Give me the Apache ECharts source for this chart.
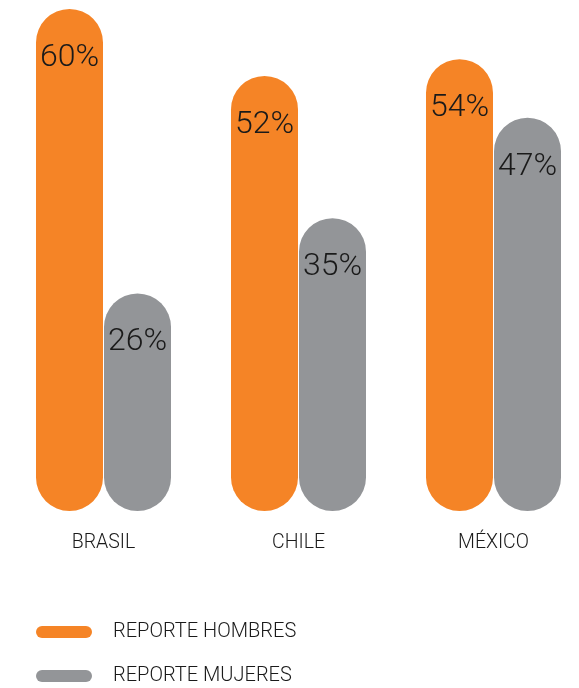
<!DOCTYPE html>
<html>
<head>
<meta charset="utf-8"/>
<script src="https://cdn.jsdelivr.net/npm/echarts@6/dist/echarts.min.js"></script>
<style>html,body{margin:0;padding:0;background:#fff;}</style>
</head>
<body>
<div id="main" style="width:579px;height:688px;"></div>
<script type="text/javascript">
var paises = ['BRASIL', 'CHILE', 'MÉXICO'];
var hombres = [60, 52, 54];
var mujeres = [26, 35, 47];
var nombres = ['REPORTE HOMBRES', 'REPORTE MUJERES'];

var myChart = echarts.init(document.getElementById('main'));
var pill = 'path://M6,0 L50,0 A6,6 0 0 1 50,12 L6,12 A6,6 0 0 1 6,0 Z';
var etiqueta = {
    show: true,
    position: 'insideTop',
    distance: 33,
    formatter: '{c}%',
    color: '#1a1a1a',
    fontFamily: 'Roboto',
    fontWeight: 300,
    fontSize: 32
};
myChart.setOption({
    animation: false,
    grid: { left: 6, top: 9, width: 585, bottom: 177, outerBoundsMode: 'none', containLabel: false },
    legend: {
        orient: 'vertical',
        left: 36,
        top: 621,
        padding: 0,
        itemWidth: 56,
        itemHeight: 13,
        itemGap: 22,
        data: [{ name: nombres[0], icon: pill }, { name: nombres[1], icon: pill }],
        textStyle: { fontFamily: 'Roboto', fontWeight: 300, fontSize: 20, color: '#1a1a1a', lineHeight: 22, padding: [0, 0, 0, 16] }
    },
    xAxis: {
        type: 'category',
        data: paises,
        axisLine: { show: false },
        axisTick: { show: false },
        axisLabel: { margin: 22, fontFamily: 'Roboto', fontWeight: 300, fontSize: 19.5, color: '#1a1a1a' }
    },
    yAxis: { type: 'value', min: 0, max: 60, show: false },
    series: [{
        name: nombres[0],
        type: 'bar',
        data: hombres,
        barWidth: 67,
        barGap: '1.5%',
        itemStyle: { color: '#F58426', borderRadius: 34 },
        label: etiqueta
    }, {
        name: nombres[1],
        type: 'bar',
        data: mujeres,
        barWidth: 67,
        itemStyle: { color: '#939598', borderRadius: 34 },
        label: etiqueta
    }]
});
</script>
</body>
</html>
